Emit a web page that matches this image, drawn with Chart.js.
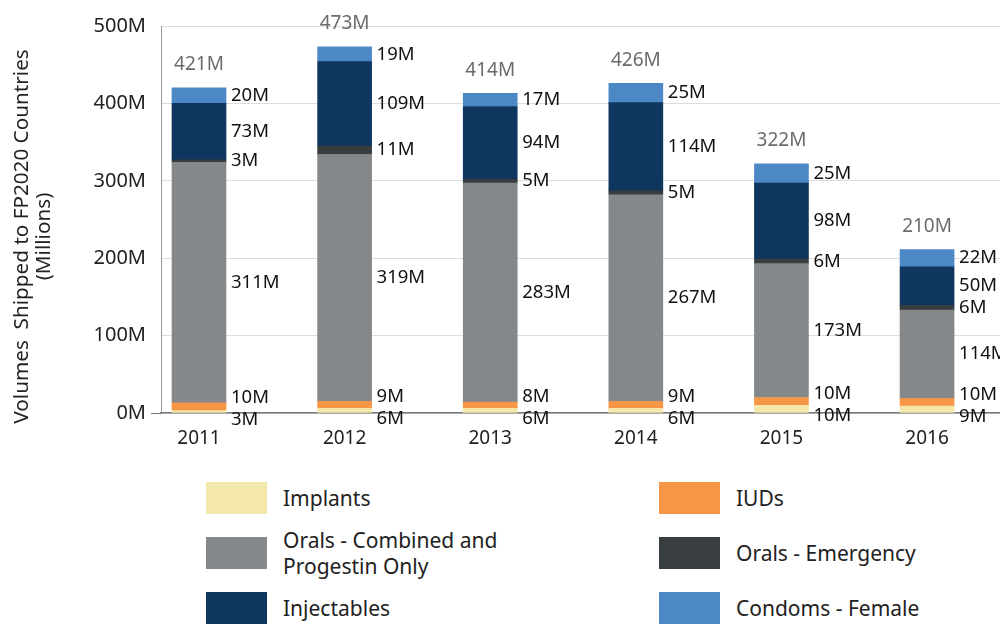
<!DOCTYPE html>
<html><head><meta charset="utf-8">
<script src="https://cdn.jsdelivr.net/npm/chart.js@4.4.1/dist/chart.umd.min.js"></script>
<style>
html,body{margin:0;padding:0;background:#fff;}
body{width:1000px;height:625px;position:relative;overflow:hidden;font-family:"Noto Sans",sans-serif;}
#wrap{position:absolute;left:0;top:0;width:1000px;height:455px;}
#legend{position:absolute;left:206px;top:482px;display:grid;grid-template-columns:453px 300px;grid-auto-rows:55px;}
.item{display:flex;align-items:center;height:32px;}
.box{width:61px;height:32px;flex:none;margin-right:16px;}
.txt{font-size:21px;line-height:26px;color:#222;max-width:240px;white-space:normal;}
</style></head><body>
<div id="wrap"><canvas id="c"></canvas></div>
<div id="legend"></div>
<script>
const years = [2011, 2012, 2013, 2014, 2015, 2016];
const implants = [3, 6, 6, 6, 10, 9];
const iuds = [10, 9, 8, 9, 10, 10];
const oralsCombined = [311, 319, 283, 267, 173, 114];
const oralsEmergency = [3, 11, 5, 5, 6, 6];
const injectables = [73, 109, 94, 114, 98, 50];
const condomsFemale = [20, 19, 17, 25, 25, 22];
const totals = [421, 473, 414, 426, 322, 210];
const yTicks = [0, 100, 200, 300, 400, 500];
const yTitle = ['Volumes  Shipped to FP2020 Countries', '(Millions)'];
const seriesNames = ['Implants', 'IUDs', 'Orals - Combined and Progestin Only', 'Orals - Emergency', 'Injectables', 'Condoms - Female'];
const seriesValues = [implants, iuds, oralsCombined, oralsEmergency, injectables, condomsFemale];
const seriesColors = ['#F3E7AA', '#F79646', '#85888B', '#383E3F', '#0E365F', '#4C87C6'];

const FAMILY = '"Noto Sans", sans-serif';

const datasets = seriesNames.map((name, d) => ({
  label: name,
  data: years.map((yr, i) => ({ x: yr, y: seriesValues[d][i] })),
  backgroundColor: seriesColors[d],
  borderWidth: 0,
  barThickness: 54
}));

const labelPlugin = {
  id: 'segLabels',
  afterDatasetsDraw(chart) {
    const ctx = chart.ctx;
    ctx.save();
    ctx.textBaseline = 'middle';
    const n = chart.data.datasets.length;
    years.forEach((yr, i) => {
      const items = [];
      chart.data.datasets.forEach((ds, d) => {
        const el = chart.getDatasetMeta(d).data[i];
        items.push({ y: (el.y + el.base) / 2, text: ds.data[i].y + 'M', x: el.x + el.width / 2 + 5 });
      });
      items.sort((a, b) => a.y - b.y);
      const gap = 22;
      for (let it = 0; it < 200; it++) {
        for (let k = 1; k < items.length; k++) {
          const dd = items[k].y - items[k - 1].y;
          if (dd < gap) { const s = (gap - dd) / 2; items[k].y += s; items[k - 1].y -= s; }
        }
      }
      ctx.font = '18.5px ' + FAMILY;
      ctx.fillStyle = '#111';
      ctx.textAlign = 'left';
      items.forEach(o => ctx.fillText(o.text, o.x, o.y));
      const topEl = chart.getDatasetMeta(n - 1).data[i];
      ctx.font = '19px ' + FAMILY;
      ctx.fillStyle = '#6b6b6b';
      ctx.textAlign = 'center';
      ctx.fillText(totals[i] + 'M', topEl.x, topEl.y - 23);
    });
    ctx.restore();
  }
};

const yTitlePlugin = {
  id: 'yTitle',
  afterDraw(chart) {
    const ctx = chart.ctx;
    const area = chart.chartArea;
    ctx.save();
    ctx.translate(22, (area.top + area.bottom) / 2 + 17);
    ctx.rotate(-Math.PI / 2);
    ctx.font = '20.7px ' + FAMILY;
    ctx.fillStyle = '#222';
    ctx.textAlign = 'center';
    ctx.textBaseline = 'middle';
    yTitle.forEach((line, k) => ctx.fillText(line, 0, k * 22));
    ctx.restore();
  }
};

new Chart(document.getElementById('c'), {
  type: 'bar',
  data: { datasets },
  plugins: [labelPlugin, yTitlePlugin],
  options: {
    responsive: true,
    maintainAspectRatio: false,
    animation: false,
    layout: { padding: { top: 26, right: 0, left: 0, bottom: 0 } },
    plugins: { legend: { display: false }, tooltip: { enabled: false } },
    scales: {
      x: {
        type: 'linear', stacked: true, min: 2010.739, max: 2016.501, offset: false,
        grid: { display: false },
        border: { display: true, color: '#777', width: 1.5 },
        afterBuildTicks: s => { s.ticks = years.map(v => ({ value: v })); },
        ticks: { autoSkip: false, maxRotation: 0, callback: v => String(v), color: '#222', font: { size: 19, family: FAMILY }, padding: 6 },
        afterFit: s => { s.height = 42; }
      },
      y: {
        stacked: true, min: 0, max: 500,
        afterBuildTicks: s => { s.ticks = yTicks.map(v => ({ value: v })); },
        ticks: { callback: v => v + 'M', color: '#222', font: { size: 20, family: FAMILY }, padding: 5 },
        grid: { color: '#dddddd', tickLength: 10, tickColor: c => (c.tick && c.tick.value === 0) ? '#777' : 'rgba(0,0,0,0)' },
        border: { display: true, color: '#999' },
        title: { display: false },
        afterFit: s => { s.width = 161; }
      }
    }
  }
});

const leg = document.getElementById('legend');
seriesNames.forEach((name, d) => {
  const it = document.createElement('div');
  it.className = 'item';
  const b = document.createElement('div');
  b.className = 'box';
  b.style.background = seriesColors[d];
  const t = document.createElement('div');
  t.className = 'txt';
  t.textContent = name;
  it.appendChild(b); it.appendChild(t);
  leg.appendChild(it);
});
</script>
</body></html>
